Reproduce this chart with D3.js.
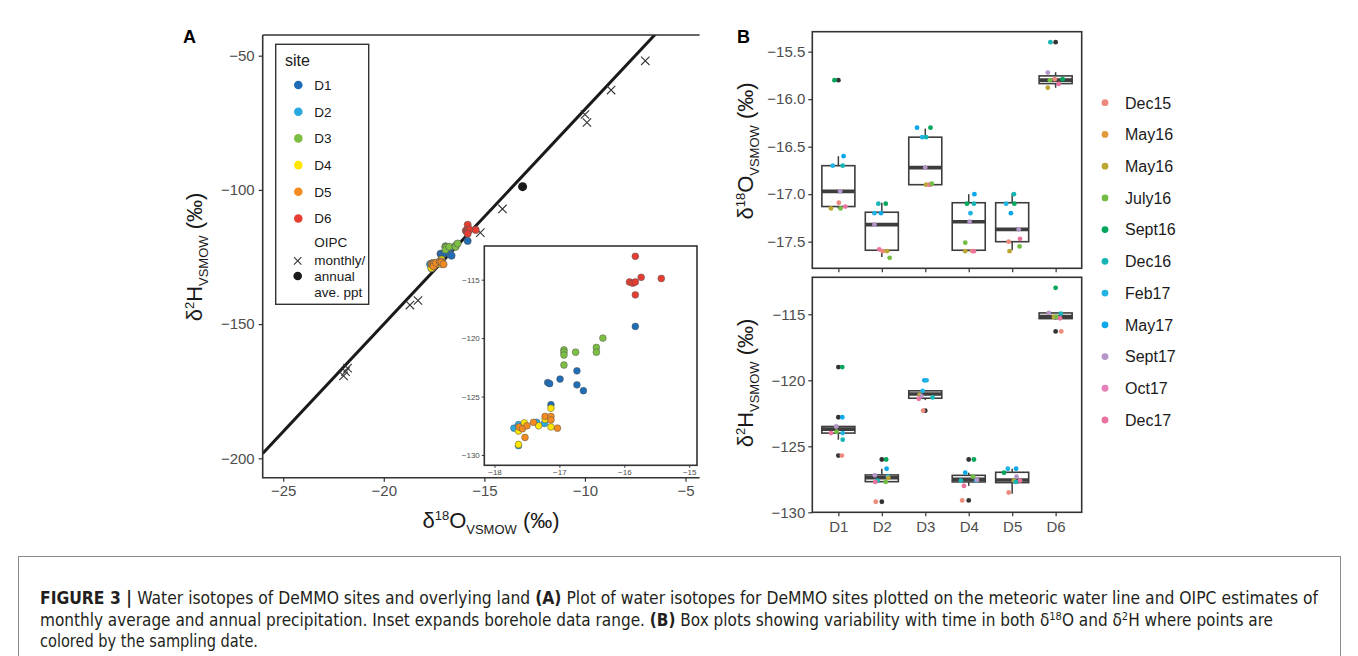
<!DOCTYPE html>
<html lang="en">
<head>
<meta charset="UTF-8">
<title>Figure 3 - water isotopes</title>
<script src="https://d3js.org/d3.v7.min.js"></script>
<style>
  body { margin: 0; background: #fff; }
  svg text { font-family: "Liberation Sans", Arial, Helvetica, sans-serif; }
  .caption text { font-family: "Liberation Sans Narrow", "DejaVu Sans Condensed", "Liberation Sans", sans-serif; }
</style>
</head>
<body>
<script>
// ---------- data ----------
const sites = ["D1", "D2", "D3", "D4", "D5", "D6"];
const siteColors = ["#1f6db6", "#2aa8e0", "#7cbf43", "#ffe600", "#f48b20", "#e53d31"];

// panel A borehole samples: [site index, d18O, d2H]
const samplesA = [
  [0, -15.83, -119.0], [0, -17.18, -123.8], [0, -17.15, -123.9], [0, -16.99, -123.5],
  [0, -16.73, -122.8], [0, -16.73, -124.0], [0, -16.63, -124.5], [0, -17.13, -125.7],
  [1, -17.70, -127.7], [1, -17.63, -127.4], [1, -17.35, -127.2], [1, -17.23, -127.3], [1, -17.63, -129.2],
  [2, -16.93, -121.0], [2, -16.93, -121.2], [2, -16.93, -121.45], [2, -16.93, -122.3],
  [2, -16.75, -121.2], [2, -16.43, -120.8], [2, -16.43, -121.2], [2, -16.33, -120.0],
  [3, -17.63, -127.95], [3, -17.54, -127.25], [3, -17.32, -127.5], [3, -17.22, -126.95],
  [3, -17.13, -126.0], [3, -17.13, -127.6], [3, -17.63, -129.1],
  [4, -17.62, -127.6], [4, -17.57, -127.75], [4, -17.50, -127.5], [4, -17.53, -128.5],
  [4, -17.40, -127.2], [4, -17.22, -126.7], [4, -17.13, -126.7], [4, -17.13, -127.0], [4, -17.03, -127.7],
  [5, -15.83, -113.0], [5, -15.92, -115.2], [5, -15.87, -115.3], [5, -15.83, -115.2],
  [5, -15.74, -114.8], [5, -15.43, -114.9], [5, -15.83, -116.3]
];

// OIPC monthly estimates [d18O, d2H] and annual average
const oipcMonthly = [
  [-7.0, -51.9], [-8.7, -62.8], [-10.0, -71.9], [-9.9, -74.9], [-14.1, -107.1], [-15.2, -115.9],
  [-18.7, -142.9], [-18.3, -141.2], [-22.0, -169.3], [-21.9, -167.7], [-21.8, -166.4]
];
const oipcAnnual = [[-13.1, -98.8]];

// global meteoric water line: d2H = 8 * d18O + 10
const mwlSlope = 8;
const mwlIntercept = 10;

const ticksAx = [-25, -20, -15, -10, -5];
const ticksAy = [-50, -100, -150, -200];
const ticksInsetX = [-18, -17, -16, -15];
const ticksInsetY = [-115, -120, -125, -130];

// panel B
const dates = ["Dec15", "May16", "May16", "July16", "Sept16", "Dec16", "Feb17", "May17", "Sept17", "Oct17", "Dec17"];
const dateColors = ["#ee8a7d", "#e29b3b", "#bca735", "#74bd44", "#00a65b", "#17b6b6", "#1fb4e4", "#0da8ea", "#b495c7", "#e680b8", "#ea729e"];

// boxes: [site, lower whisker, q1, median, q3, upper whisker]
const boxesO = [
  [0, -17.15, -17.13, -16.97, -16.70, -16.60],
  [1, -17.66, -17.59, -17.32, -17.19, -17.09],
  [2, -16.90, -16.90, -16.72, -16.40, -16.31],
  [3, -17.60, -17.59, -17.29, -17.09, -17.00],
  [4, -17.59, -17.50, -17.37, -17.09, -16.99],
  [5, -15.88, -15.836, -15.80, -15.755, -15.716]
];
const boxesH = [
  [0, -124.5, -124.0, -123.7, -123.5, -123.5],
  [1, -127.7, -127.68, -127.38, -127.17, -126.7],
  [2, -121.5, -121.36, -121.04, -120.8, -120.8],
  [3, -128.0, -127.7, -127.5, -127.2, -127.0],
  [4, -128.6, -127.75, -127.55, -126.97, -126.7],
  [5, -115.4, -115.33, -115.18, -114.9, -114.9]
];
// outliers: [site, value]
const outliersO = [[0, -15.8], [5, -15.4]];
const outliersH = [[0, -119.0], [0, -122.8], [0, -125.7], [1, -126.0], [1, -129.2],
  [2, -122.3], [3, -126.0], [3, -129.1], [5, -116.3]];

// jittered points: [site, date, value, jitter (fraction of category step)]
const pointsO = [
  [0, 4, -15.8, -0.09], [0, 7, -16.6, 0.12], [0, 6, -16.7, -0.13], [0, 5, -16.7, 0.10], [0, 8, -16.97, 0.04],
  [0, 0, -17.09, 0.01], [0, 10, -17.13, 0.16], [0, 2, -17.15, -0.17], [0, 3, -17.15, 0.05],
  [1, 4, -17.1, 0.09], [1, 5, -17.1, -0.08], [1, 6, -17.2, -0.17], [1, 7, -17.2, -0.02], [1, 8, -17.32, -0.17],
  [1, 10, -17.58, -0.06], [1, 0, -17.6, 0.02], [1, 2, -17.6, 0.12], [1, 3, -17.67, 0.18],
  [2, 7, -16.3, -0.19], [2, 4, -16.3, 0.12], [2, 6, -16.4, -0.07], [2, 5, -16.4, 0.02], [2, 8, -16.72, 0.0],
  [2, 2, -16.9, 0.02], [2, 0, -16.9, 0.09], [2, 10, -16.9, 0.12], [2, 3, -16.89, 0.15],
  [3, 7, -17.0, 0.13], [3, 4, -17.1, -0.04], [3, 5, -17.1, 0.12], [3, 6, -17.2, 0.04], [3, 8, -17.29, 0.02],
  [3, 3, -17.51, -0.08], [3, 2, -17.6, -0.08], [3, 0, -17.6, 0.08], [3, 10, -17.6, 0.12],
  [4, 5, -17.0, 0.04], [4, 6, -17.1, -0.14], [4, 4, -17.1, 0.05], [4, 7, -17.2, -0.03], [4, 8, -17.37, 0.15],
  [4, 10, -17.47, 0.18], [4, 0, -17.5, -0.08], [4, 3, -17.55, 0.17], [4, 2, -17.6, -0.06],
  [5, 5, -15.4, -0.12], [5, 8, -15.72, -0.18], [5, 3, -15.80, -0.13], [5, 0, -15.79, -0.02],
  [5, 4, -15.79, 0.16], [5, 10, -15.84, 0.07], [5, 2, -15.88, -0.18]
];
const pointsH = [
  [0, 4, -119.0, 0.09], [0, 7, -122.8, 0.09], [0, 8, -123.5, -0.05], [0, 3, -123.9, -0.04], [0, 10, -124.0, -0.17],
  [0, 6, -124.0, 0.10], [0, 5, -124.5, 0.10], [0, 0, -125.7, 0.08],
  [1, 4, -126.0, 0.10], [1, 7, -126.7, 0.11], [1, 8, -127.2, -0.16], [1, 6, -127.3, 0.14], [1, 2, -127.4, 0.15],
  [1, 5, -127.6, -0.10], [1, 10, -127.7, -0.15], [1, 3, -127.7, 0.09], [1, 0, -129.2, -0.14],
  [2, 7, -120.0, -0.02], [2, 6, -120.0, 0.03], [2, 6, -120.8, -0.06], [2, 2, -121.1, -0.13], [2, 8, -121.2, -0.09],
  [2, 5, -121.3, 0.17], [2, 10, -121.4, -0.15], [2, 0, -122.3, -0.05],
  [3, 4, -126.0, 0.12], [3, 7, -127.0, -0.08], [3, 3, -127.3, 0.10], [3, 5, -127.6, -0.18], [3, 6, -127.6, 0.17],
  [3, 8, -127.55, 0.19], [3, 10, -128.0, -0.11], [3, 0, -129.1, -0.15],
  [4, 6, -126.7, -0.10], [4, 7, -126.7, 0.09], [4, 4, -127.0, -0.19], [4, 8, -127.3, 0.10], [4, 10, -127.6, 0.18],
  [4, 2, -127.6, 0.04], [4, 5, -127.7, 0.08], [4, 0, -128.5, -0.08],
  [5, 4, -113.0, 0.0], [5, 8, -114.9, -0.16], [5, 5, -114.95, 0.12], [5, 2, -115.2, -0.04],
  [5, 3, -115.2, 0.02], [5, 10, -115.3, 0.10], [5, 0, -116.3, 0.13]
];
const ticksBO = [-15.5, -16.0, -16.5, -17.0, -17.5];
const ticksBH = [-115, -120, -125, -130];

// ---------- setup ----------
const W = 1358, H = 656;
const axisCol = "#333333", tickTextCol = "#4d4d4d";

const svg = d3.select("body").append("svg")
  .attr("width", W).attr("height", H);

// caption frame
svg.append("rect")
  .attr("x", 18.5).attr("y", 556.5).attr("width", 1322).attr("height", 140)
  .attr("fill", "none").attr("stroke", "#8a8a8a").attr("stroke-width", 1);

// helper for isotope labels with super/subscripts
function isoLabel(t, sup, el, big, small) {
  t.append("tspan").attr("font-size", big).text("δ");
  t.append("tspan").attr("font-size", small).attr("dy", -big * 0.38).text(sup);
  t.append("tspan").attr("font-size", big).attr("dy", big * 0.38).text(el);
  t.append("tspan").attr("font-size", small).attr("dy", big * 0.25).text("VSMOW");
  t.append("tspan").attr("font-size", big).attr("dy", -big * 0.25).text(" (‰)");
}
const minus = d => String(d).replace("-", "−");

// ---------- panel A ----------
const xA = d3.scaleLinear().domain([-26.02, -4.3]).range([262.7, 699.6]);
const yA = d3.scaleLinear().domain([-207.23, -42.29]).range([477.7, 35]);

const gA = svg.append("g");
const clipA = svg.append("clipPath").attr("id", "clipA");
clipA.append("rect").attr("x", xA.range()[0]).attr("y", yA.range()[1])
  .attr("width", xA.range()[1] - xA.range()[0]).attr("height", yA.range()[0] - yA.range()[1]);

// MWL
const mwlX = xA.domain();
gA.append("line")
  .attr("clip-path", "url(#clipA)")
  .attr("x1", xA(mwlX[0])).attr("y1", yA(mwlSlope * mwlX[0] + mwlIntercept))
  .attr("x2", xA(mwlX[1])).attr("y2", yA(mwlSlope * mwlX[1] + mwlIntercept))
  .attr("stroke", "#1a1a1a").attr("stroke-width", 3);

// OIPC crosses
gA.append("g").selectAll("path").data(oipcMonthly).join("path")
  .attr("d", d => {
    const x = xA(d[0]), y = yA(d[1]), s = 4.2;
    return `M${x - s},${y - s}L${x + s},${y + s}M${x - s},${y + s}L${x + s},${y - s}`;
  })
  .attr("stroke", "#333").attr("stroke-width", 1.1).attr("fill", "none");

gA.append("g").selectAll("circle").data(oipcAnnual).join("circle")
  .attr("cx", d => xA(d[0])).attr("cy", d => yA(d[1])).attr("r", 4.5)
  .attr("fill", "#1a1a1a");

// site points
gA.append("g").selectAll("circle").data(samplesA).join("circle")
  .attr("cx", d => xA(d[1])).attr("cy", d => yA(d[2])).attr("r", 3.6)
  .attr("fill", d => siteColors[d[0]]).attr("stroke", "#555").attr("stroke-width", 0.6);

// axes A
const axAy = gA.append("g").attr("transform", `translate(${xA.range()[0]},0)`)
  .call(d3.axisLeft(yA).tickValues(ticksAy).tickSize(4).tickPadding(4).tickFormat(minus));
const axAx = gA.append("g").attr("transform", `translate(0,${yA.range()[0]})`)
  .call(d3.axisBottom(xA).tickValues(ticksAx).tickSize(4).tickPadding(4).tickFormat(minus));
[axAy, axAx].forEach(a => {
  a.select(".domain").remove();
  a.selectAll(".tick line").attr("stroke", axisCol).attr("stroke-width", 1.2);
  a.selectAll(".tick text").attr("fill", tickTextCol).attr("font-size", 15);
});
// frame lines A
gA.append("path")
  .attr("d", `M${xA.range()[0]},${yA.range()[1]}V${yA.range()[0]}H${xA.range()[1]}`)
  .attr("fill", "none").attr("stroke", axisCol).attr("stroke-width", 1.6);
gA.append("line")
  .attr("x1", xA.range()[0]).attr("x2", xA.range()[1])
  .attr("y1", yA.range()[1]).attr("y2", yA.range()[1])
  .attr("stroke", axisCol).attr("stroke-width", 1.4);

// axis titles A
const xtA = gA.append("text").attr("x", 491).attr("y", 528).attr("text-anchor", "middle").attr("fill", "#1a1a1a");
isoLabel(xtA, "18", "O", 22, 13);
const ytA = gA.append("text").attr("transform", "translate(202,257) rotate(-90)")
  .attr("text-anchor", "middle").attr("fill", "#1a1a1a");
isoLabel(ytA, "2", "H", 22, 13);

gA.append("text").attr("x", 183).attr("y", 43).attr("font-size", 18).attr("font-weight", "bold").text("A");

// legend A
const legA = gA.append("g");
legA.append("rect").attr("x", 275.7).attr("y", 44.3).attr("width", 93).attr("height", 260)
  .attr("fill", "#fff").attr("stroke", axisCol).attr("stroke-width", 1.4);
legA.append("text").attr("x", 285).attr("y", 66).attr("font-size", 16).attr("fill", "#1a1a1a").text("site");
const legRows = legA.selectAll("g.row").data(sites).join("g").attr("class", "row")
  .attr("transform", (d, i) => `translate(0,${85 + i * 26.7})`);
legRows.append("circle").attr("cx", 298.3).attr("cy", 0).attr("r", 4.3)
  .attr("fill", (d, i) => siteColors[i]);
legRows.append("text").attr("x", 314.3).attr("y", 4.8).attr("font-size", 13.5).attr("fill", "#1a1a1a").text(d => d);
["OIPC", "monthly/", "annual", "ave. ppt"].forEach((s, i) => {
  legA.append("text").attr("x", 314.3).attr("y", [246.5, 264.5, 280.5, 297][i])
    .attr("font-size", 13.5).attr("fill", "#1a1a1a").text(s);
});
legA.append("path")
  .attr("d", "M294,257.2L301.4,264.6M294,264.6L301.4,257.2")
  .attr("stroke", "#333").attr("stroke-width", 1.1);
legA.append("circle").attr("cx", 297.7).attr("cy", 276).attr("r", 4.3).attr("fill", "#1a1a1a");

// inset
const xI = d3.scaleLinear().domain([-18.157, -14.88]).range([484.3, 697]);
const yI = d3.scaleLinear().domain([-130.88, -112.12]).range([465.3, 246]);
const gI = svg.append("g");
gI.append("rect").attr("x", xI.range()[0]).attr("y", yI.range()[1])
  .attr("width", xI.range()[1] - xI.range()[0]).attr("height", yI.range()[0] - yI.range()[1])
  .attr("fill", "#fff").attr("stroke", axisCol).attr("stroke-width", 1.6);
gI.append("g").selectAll("circle").data(samplesA).join("circle")
  .attr("cx", d => xI(d[1])).attr("cy", d => yI(d[2])).attr("r", 3.4)
  .attr("fill", d => siteColors[d[0]]).attr("stroke", "#555").attr("stroke-width", 0.5);
const axIy = gI.append("g").attr("transform", `translate(${xI.range()[0]},0)`)
  .call(d3.axisLeft(yI).tickValues(ticksInsetY).tickSize(2.5).tickPadding(2).tickFormat(minus));
const axIx = gI.append("g").attr("transform", `translate(0,${yI.range()[0]})`)
  .call(d3.axisBottom(xI).tickValues(ticksInsetX).tickSize(2.5).tickPadding(1.5).tickFormat(minus));
[axIy, axIx].forEach(a => {
  a.select(".domain").remove();
  a.selectAll(".tick line").attr("stroke", axisCol);
  a.selectAll(".tick text").attr("fill", tickTextCol).attr("font-size", 8);
});

// ---------- panel B ----------
const xB = d3.scalePoint().domain(sites).range([812.3, 1081.7]).padding(0.6);
const stepB = xB.step();
const boxW = stepB * 0.76;
const yBO = d3.scaleLinear().domain([-17.78, -15.29]).range([268.3, 31.7]);
const yBH = d3.scaleLinear().domain([-130.0, -112.2]).range([512.3, 277.3]);

function boxPanel(y, boxes, outliers, points, ticks, fmt, showLabels) {
  const g = svg.append("g");
  const [y0, y1] = y.range();
  g.append("rect").attr("x", 812.3).attr("y", y1).attr("width", 1081.7 - 812.3).attr("height", y0 - y1)
    .attr("fill", "#fff").attr("stroke", axisCol).attr("stroke-width", 1.6);
  const bx = g.append("g").selectAll("g").data(boxes).join("g")
    .attr("transform", d => `translate(${xB(sites[d[0]])},0)`);
  bx.append("line").attr("y1", d => y(d[1])).attr("y2", d => y(d[2]))
    .attr("stroke", "#3d3d3d").attr("stroke-width", 1.5);
  bx.append("line").attr("y1", d => y(d[4])).attr("y2", d => y(d[5]))
    .attr("stroke", "#3d3d3d").attr("stroke-width", 1.5);
  bx.append("rect").attr("x", -boxW / 2).attr("width", boxW)
    .attr("y", d => y(d[4])).attr("height", d => y(d[2]) - y(d[4]))
    .attr("fill", "#fff").attr("stroke", "#3d3d3d").attr("stroke-width", 1.6);
  bx.append("line").attr("x1", -boxW / 2).attr("x2", boxW / 2)
    .attr("y1", d => y(d[3])).attr("y2", d => y(d[3]))
    .attr("stroke", "#3d3d3d").attr("stroke-width", 3.6);
  g.append("g").selectAll("circle").data(outliers).join("circle")
    .attr("cx", d => xB(sites[d[0]])).attr("cy", d => y(d[1])).attr("r", 2.4).attr("fill", "#333");
  g.append("g").selectAll("circle").data(points).join("circle")
    .attr("cx", d => xB(sites[d[0]]) + d[3] * stepB).attr("cy", d => y(d[2])).attr("r", 2.4)
    .attr("fill", d => dateColors[d[1]]);
  const ay = g.append("g").attr("transform", "translate(812.3,0)")
    .call(d3.axisLeft(y).tickValues(ticks).tickSize(4).tickPadding(3).tickFormat(d => minus(fmt(d))));
  const ax = g.append("g").attr("transform", `translate(0,${y0})`)
    .call(d3.axisBottom(xB).tickSize(4).tickPadding(5).tickFormat(d => showLabels ? d : ""));
  [ay, ax].forEach(a => {
    a.select(".domain").remove();
    a.selectAll(".tick line").attr("stroke", axisCol).attr("stroke-width", 1.2);
    a.selectAll(".tick text").attr("fill", tickTextCol).attr("font-size", 15);
  });
  return g;
}
boxPanel(yBO, boxesO, outliersO, pointsO, ticksBO, d3.format(".1f"), false);
boxPanel(yBH, boxesH, outliersH, pointsH, ticksBH, d3.format(""), true);

const ytBO = svg.append("text").attr("transform", "translate(753,151) rotate(-90)")
  .attr("text-anchor", "middle").attr("fill", "#1a1a1a");
isoLabel(ytBO, "18", "O", 22, 13);
const ytBH = svg.append("text").attr("transform", "translate(753,383) rotate(-90)")
  .attr("text-anchor", "middle").attr("fill", "#1a1a1a");
isoLabel(ytBH, "2", "H", 22, 13);

svg.append("text").attr("x", 737).attr("y", 43).attr("font-size", 18).attr("font-weight", "bold").text("B");

// legend B
const legB = svg.append("g").selectAll("g").data(dates).join("g")
  .attr("transform", (d, i) => `translate(0,${102.7 + i * 31.73})`);
legB.append("circle").attr("cx", 1105).attr("cy", 0).attr("r", 3.4).attr("fill", (d, i) => dateColors[i]);
legB.append("text").attr("x", 1125).attr("y", 5.8).attr("font-size", 16).attr("fill", "#1a1a1a").text(d => d);

// ---------- caption ----------
const cap = svg.append("g").attr("class", "caption").attr("fill", "#231f20").attr("font-size", 17);
const capLines = [
  { y: 604, len: 1278, parts: [["FIGURE 3 | ", true], ["Water isotopes of DeMMO sites and overlying land ", false], ["(A)", true],
    [" Plot of water isotopes for DeMMO sites plotted on the meteoric water line and OIPC estimates of", false]] },
  { y: 626, len: 1233, parts: [["monthly average and annual precipitation. Inset expands borehole data range. ", false], ["(B)", true],
    [" Box plots showing variability with time in both δ", false], ["18", false, "sup"], ["O and δ", false, "back"], ["2", false, "sup"], ["H where points are", false, "back"]] },
  { y: 647, len: 218, parts: [["colored by the sampling date.", false]] }
];
capLines.forEach(l => {
  const t = cap.append("text").attr("x", 40).attr("y", l.y)
    .attr("textLength", l.len).attr("lengthAdjust", "spacingAndGlyphs");
  l.parts.forEach(p => {
    const ts = t.append("tspan").text(p[0]);
    if (p[1]) ts.attr("font-weight", "bold");
    if (p[2] === "sup") ts.attr("font-size", 11).attr("dy", -6);
    if (p[2] === "back") ts.attr("dy", 6);
  });
});
</script>
</body>
</html>
